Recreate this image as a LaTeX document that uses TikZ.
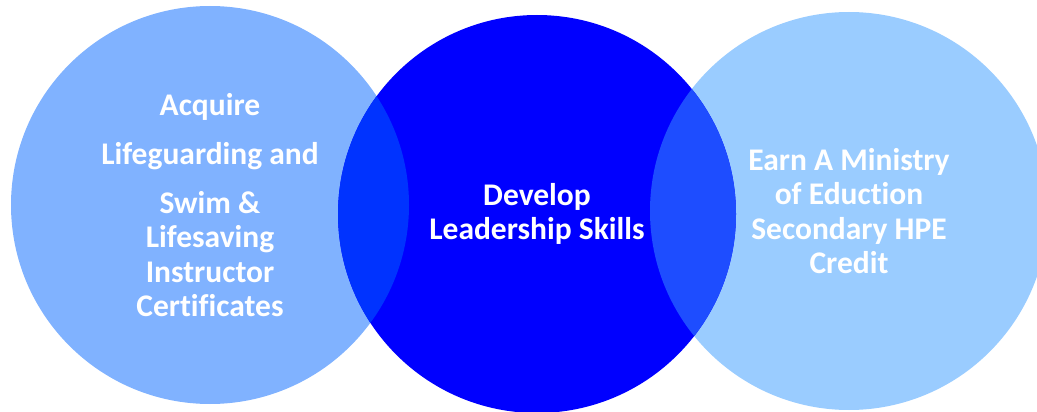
\documentclass[tikz,border=0pt]{standalone}
\usepackage{fontspec}
\setmainfont[Ligatures=NoCommon]{Carlito}
\usetikzlibrary{positioning}
\definecolor{acqblue}{RGB}{128,178,255}
\definecolor{devblue}{RGB}{0,0,255}
\definecolor{earnblue}{RGB}{154,204,255}
\definecolor{lensleft}{RGB}{0,51,255}
\definecolor{lensright}{RGB}{30,77,255}
\tikzset{
  venn/.style={circle, minimum size=398pt, inner sep=0pt},
  venntext/.style={text=white, align=center, inner sep=0pt,
    font=\bfseries\fontsize{31.5}{34.5}\selectfont}
}

\begin{document}
\begin{tikzpicture}[x=1pt, y=-1pt]
    \useasboundingbox (0,0) rectangle (1037,412);
    \clip (0,0) rectangle (1037,412);

    \node[venn, fill=acqblue]  (acq)  at (210,205) {};
    \node[venn, fill=earnblue] (earn) at (849,211) {};
    \node[venn, fill=devblue]  (dev)  at (537,214) {};

    % overlaps
    \begin{scope}
      \clip (acq) circle (199);
      \fill[lensleft] (dev) circle (199);
    \end{scope}
    \begin{scope}
      \clip (earn) circle (199);
      \fill[lensright] (dev) circle (199);
    \end{scope}

    \node[venntext] (acqtext) at (acq) {Acquire\\[14.5pt] Lifeguarding and\\[14.5pt] Swim \&\\ Lifesaving\\ Instructor\\ Certificates};
    \node[venntext] (devtext) at (dev) {Develop\\ Leadership Skills};
    \node[venntext] (earntext) at (earn) {Earn A Ministry\\ of Eduction\\ Secondary HPE\\ Credit};
\end{tikzpicture}
\end{document}
